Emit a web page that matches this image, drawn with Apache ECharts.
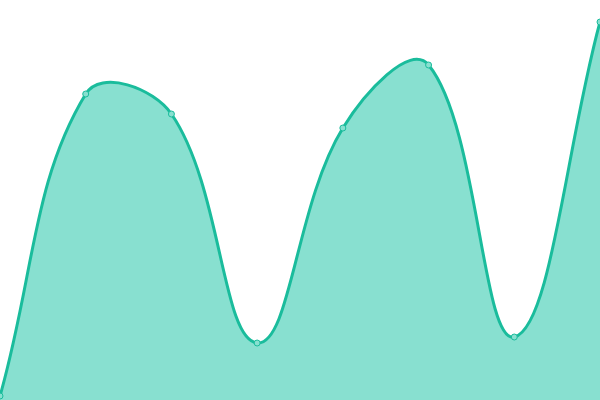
<!DOCTYPE html>
<html>
<head>
<meta charset="utf-8">
<style>
  html, body { margin: 0; padding: 0; background: #fff; }
  #chart { width: 600px; height: 400px; }
</style>
<script src="https://cdn.jsdelivr.net/npm/echarts@6/dist/echarts.min.js"></script>
</head>
<body>
<div id="chart"></div>
<script>
let categories = ['1', '2', '3', '4', '5', '6', '7', '8']
let values = [4, 306, 286, 57, 272, 335, 63, 378]

const lineColor = '#1abc9c'
const fillColor = '#88e0d0'
const tension = 0.4

// spline like the reference: control points from neighbours, weighted by segment length, no clamping to extremes
function splinePath(pts, rect) {
    let clampX = v => Math.max(rect.x, Math.min(rect.x + rect.width, v))
    let clampY = v => Math.max(rect.y, Math.min(rect.y + rect.height, v))
    let cps = pts.map((p, i) => {
        let prev = pts[i - 1] || p
        let next = pts[i + 1] || p
        let d01 = Math.hypot(p[0] - prev[0], p[1] - prev[1])
        let d12 = Math.hypot(next[0] - p[0], next[1] - p[1])
        let s01 = d01 / (d01 + d12)
        let s12 = d12 / (d01 + d12)
        if (isNaN(s01)) s01 = 0
        if (isNaN(s12)) s12 = 0
        let fa = tension * s01
        let fb = tension * s12
        return {
            prev: [clampX(p[0] - fa * (next[0] - prev[0])), clampY(p[1] - fa * (next[1] - prev[1]))],
            next: [clampX(p[0] + fb * (next[0] - prev[0])), clampY(p[1] + fb * (next[1] - prev[1]))]
        }
    })
    let d = 'M' + pts[0][0] + ' ' + pts[0][1]
    for (let i = 1; i < pts.length; i++) {
        let a = cps[i - 1].next
        let b = cps[i].prev
        d += ' C' + a[0] + ' ' + a[1] + ' ' + b[0] + ' ' + b[1] + ' ' + pts[i][0] + ' ' + pts[i][1]
    }
    return d
}

let myChart = echarts.init(document.getElementById('chart'))
let option = {
    animation: false,
    grid: {left: 0, right: 0, top: 0, bottom: 0},
    xAxis: {
        type: 'category',
        boundaryGap: false,
        data: categories,
        show: false
    },
    yAxis: {
        type: 'value',
        min: 0,
        max: 400,
        show: false
    },
    series: [
        {
            type: 'custom',
            data: values.map((v, i) => [i, v]),
            encode: {x: 0, y: 1},
            renderItem: function (params, api) {
                if (params.dataIndex !== 0) {
                    return {type: 'group', children: []}
                }
                let pts = values.map((v, i) => api.coord([i, v]))
                let base = api.coord([0, 0])[1]
                let line = splinePath(pts, params.coordSys)
                let area = line + ' L' + pts[pts.length - 1][0] + ' ' + base + ' L' + pts[0][0] + ' ' + base + ' Z'
                return {
                    type: 'group',
                    children: [
                        {type: 'path', shape: {pathData: area}, style: {fill: fillColor, stroke: null}},
                        {type: 'path', shape: {pathData: line}, style: {fill: null, stroke: lineColor, lineWidth: 3}}
                    ]
                }
            }
        },
        {
            type: 'scatter',
            data: values,
            z: 3,
            symbol: 'circle',
            symbolSize: 6,
            itemStyle: {color: fillColor, borderColor: lineColor, borderWidth: 1, opacity: 1}
        }
    ]
}
myChart.setOption(option)
</script>
</body>
</html>
